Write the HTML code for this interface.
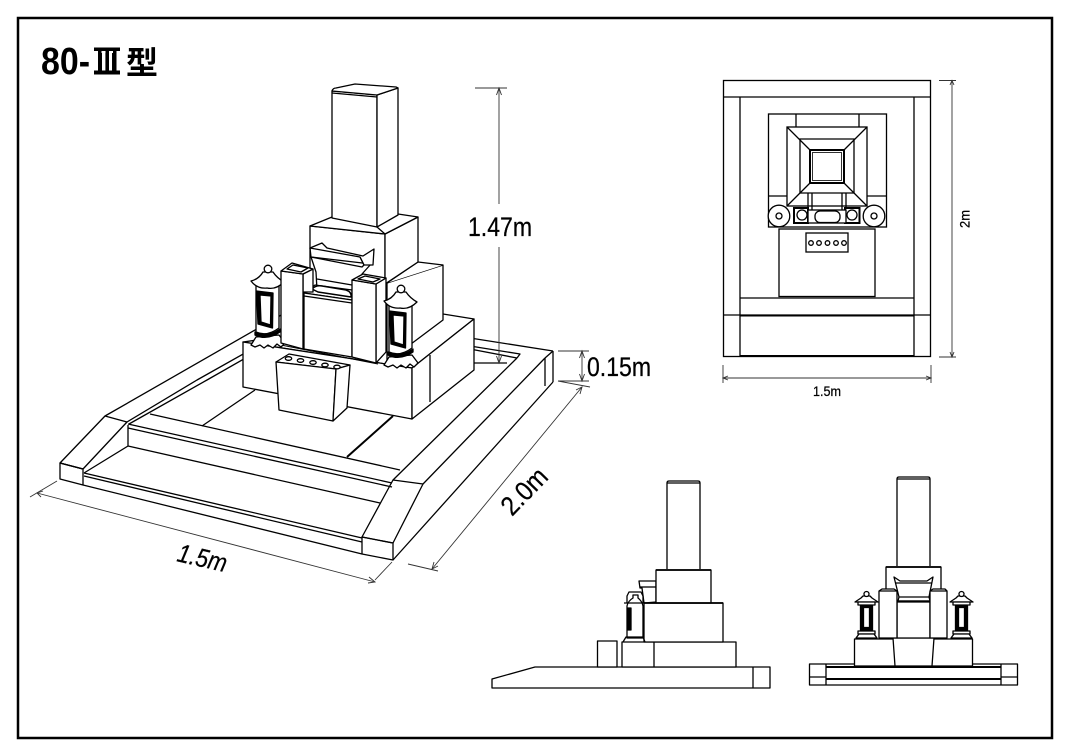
<!DOCTYPE html>
<html lang="ja">
<head>
<meta charset="utf-8">
<title>80-Ⅲ型</title>
<style>
html,body{margin:0;padding:0;background:#fff;width:1070px;height:756px;overflow:hidden}
svg{display:block}
text{font-family:"Liberation Sans","Noto Sans CJK JP",sans-serif;fill:#000;stroke:none}
text.d{stroke:#000;stroke-width:.25}
</style>
</head>
<body>
<svg width="1070" height="756" viewBox="0 0 1070 756" xmlns="http://www.w3.org/2000/svg">
<defs>
<g id="lan">
  <path d="M384,365 L389,357 L412,355 L418,363 L414,367 L410,364 L406,368 L401,365 L397,368 L393,365 L388,367 Z"/>
  <path d="M388,352 Q400,358 413,349 L413,352 Q400,361 388,355 Z" fill="#000"/>
  <path d="M389,305 L389,352 Q400,357 412,348 L412,305 Z"/>
  <path d="M389.500,311 L406,313 L405.500,348 L391,344 Z" fill="#000"/>
  <path d="M393,315 L404,316 L403.500,345 L394,342 Z"/>
  <path d="M384,301 Q392,299 396,292 L406,292 Q410,298 417,302 Q409,310 400,308 Q390,309 384,301 Z"/>
  <circle cx="401" cy="289" r="3.800"/>
</g>
<g id="fl">
  <rect x="860.500" y="605" width="12" height="26" fill="#000"/>
  <rect x="863.500" y="607.500" width="6" height="20"/>
  <path d="M858,631 H875 V634 H858 Z"/>
  <path d="M856,638 L859,634 H874 L877,638 Z"/>
  <path d="M855,602 L861,598 L863,596 H870 L872,598 L878,602 Z" />
  <circle cx="866.500" cy="594" r="2.500"/>
  <path d="M858,602 H875 V605 H858 Z"/>
</g>
</defs>

<rect width="1070" height="756" fill="#fff"/>
<rect x="18" y="18" width="1034" height="720" fill="#fff" stroke="#000" stroke-width="2.500"/>

<text x="41" y="74" font-size="38" font-weight="700" textLength="49" lengthAdjust="spacingAndGlyphs">80-</text>
<text x="94" y="73" font-size="26" font-weight="700" textLength="26" lengthAdjust="spacingAndGlyphs" style="font-family:'IPAGothic','Noto Sans CJK JP',sans-serif">Ⅲ</text>
<rect x="94" y="47.500" width="26" height="3.500" fill="#000"/>
<rect x="94" y="70.500" width="26" height="4" fill="#000"/>
<rect x="98" y="49" width="3.500" height="23" fill="#000"/>
<rect x="105.500" y="49" width="3.500" height="23" fill="#000"/>
<rect x="113" y="49" width="3.500" height="23" fill="#000"/>
<text x="126" y="74" font-size="32" font-weight="700" style="font-family:'Noto Sans CJK JP',sans-serif">型</text>

<!-- Isometric base -->
<g fill="none" stroke="#000" stroke-width="1.300" stroke-linejoin="round">
  <path d="M105,416 L290,310"/>
  <path d="M60,463 L105,416 L127,422 L83,469 Z" fill="#fff"/>
  <path d="M127,422 L197,380 L270,339"/>
  <path d="M129,424 L207,380 L270,344"/>
  <path d="M60,463 V479 L83,485 V469 Z"/>
  <path d="M60,463 L83,469"/>
  <path d="M128,425 V446 L84,473"/>
  <path d="M150,414 L400,470"/>
  <path d="M128,424 L392,483"/>
  <path d="M128,428 L392,487"/>
  <path d="M128,446 L380,503"/>
  <path d="M84,473 L362,538"/>
  <path d="M84,476 L362,542"/>
  <path d="M83,485 L362,554"/>
  <path d="M202,426 L255,390"/>
  <path d="M347,457 L393,416" stroke-width="2"/>
  <path d="M362,537 L393,480 L423,484 L393,543 Z"/>
  <path d="M362,537 V554 L393,560 V543 Z"/>
  <path d="M393,480 L517,358"/>
  <path d="M423,484 L545,358"/>
  <path d="M393,560 L553,382"/>
  <path d="M545,358 V386"/>
  <path d="M553,351 V382"/>
  <path d="M545,358 L553,351"/>
  <path d="M470,338 L553,351"/>
  <path d="M470,346 L520,354 L517,358"/>
  <path d="M470,349 L517,358"/>
  <path d="M470,363 H507"/>
</g>

<!-- Monument -->
<g fill="#fff" stroke="#000" stroke-width="1.300" stroke-linejoin="round">
  <path d="M243,342 L443,314 L474,319 L412,368 Z"/>
  <path d="M387,283 L443,265 V320 L387,362 Z"/>
  <path d="M387,283 L418,262 L443,265"/>
  <path d="M310,226 L385,234 V295 L310,295 Z"/>
  <path d="M385,234 L418,217 V262 L385,284 Z"/>
  <path d="M310,226 L332,217 L398,214 L418,217 L385,234 Z"/>
  <path d="M332,91 L377,95 V227 L332,218 Z"/>
  <path d="M377,95 L398,88 V215 L377,227 Z"/>
  <path d="M332,91 Q333,88 336,88 L355,84 L396,87 L398,88 L377,95 Z"/>
  <path d="M332,93 L377,97" fill="none"/>
  <path d="M377,227 L385,234" fill="none"/>

  <path d="M243,342 L412,368 V419 L243,387 Z"/>
  <path d="M412,368 L474,319 V370 L412,419 Z"/>
  <path d="M430,355 V402" fill="none"/>
  <path d="M281,345 L378,364" fill="none" stroke-width="1.100"/>

  <!-- Left lantern -->
  <use href="#lan" transform="translate(-133,-20)"/>

  <!-- Incense stand -->
  <path d="M311,257 L316,272 L317,290 H362 L362,274 L371,264 Z"/>
  <path d="M310,248 L322,243 L327,248 L363,256 L374,249 L373,265 L364,265 L360,257 Z"/>
  <path d="M310,248 L311,257 L362,267 L364,265 M360,257 L364,265" fill="none"/>
  <path d="M317,279 L352,285" fill="none"/>

  <!-- Center block -->
  <path d="M304,293 L315,285 L352,290 V300 Z"/>
  <path d="M312,289 Q316,285 322,286 L346,290 Q352,292 351,297 L318,292 Z" stroke-width="1.500"/>
  <path d="M304,293 L352,300 V357 L304,349 Z"/>
  <path d="M304,296 L352,303" fill="none"/>

  <!-- Left pillar -->
  <path d="M303,274 L313,269 V292 L303,292 Z"/>
  <path d="M281,271 L303,274 V349 L281,343 Z"/>
  <path d="M281,271 L292,263 L313,269 L303,274 Z"/>
  <path d="M287,269 L293,265 L308,268 L301,272 Z"/>

  <!-- Right pillar -->
  <path d="M376,284 L386,278 V352 L376,363 Z"/>
  <path d="M352,280 L376,284 V363 L352,357 Z"/>
  <path d="M352,280 L363,274 L386,278 L376,284 Z"/>
  <path d="M358,279 L365,276 L380,279 L373,282 Z"/>

  <use href="#lan"/>

  <!-- Flower stand -->
  <path d="M276,362 L289,354 L350,365 L336,369 Z"/>
  <path d="M276,362 L336,369 L333,421 L279,410 Z"/>
  <path d="M336,369 L350,365 L347,408 L333,421 Z"/>
  <ellipse cx="288.500" cy="358.500" rx="3.200" ry="1.800"/>
  <ellipse cx="300.500" cy="360.500" rx="3.200" ry="1.800"/>
  <ellipse cx="313" cy="362.500" rx="3.200" ry="1.800"/>
  <ellipse cx="325" cy="365" rx="3.200" ry="1.800"/>
  <ellipse cx="337" cy="367" rx="3.200" ry="1.800"/>
</g>

<!-- Iso dimensions -->
<g fill="none" stroke="#333" stroke-width="0.900">
  <path d="M475,88 H507 M499,88 V204 M499,247 V363"/>
  <path d="M496.500,95 L499,88 L501.500,95 M496.500,356 L499,363 L501.500,356"/>
  <path d="M558,351 H589 M582,351 V381 M558,381 H589 M558,381 L590,387"/>
  <path d="M579.500,358 L582,351 L584.500,358 M579.500,374 L582,381 L584.500,374"/>
  <path d="M582,387 L432,569 M408,564 L438,571"/>
  <path d="M576,390 L582,387 L580,394 M434,562 L432,569 L438,566"/>
  <path d="M57,481 L30,497 M37,493 L375,582 M392,562 L375,580"/>
  <path d="M43,491 L37,493 L41,497 M369,577 L375,582 L368,583"/>
</g>
<text class="d" x="468" y="236" font-size="26.500" textLength="64" lengthAdjust="spacingAndGlyphs">1.47m</text>
<text class="d" x="587" y="376" font-size="26.500" textLength="64" lengthAdjust="spacingAndGlyphs">0.15m</text>
<text class="d" transform="translate(512,517) rotate(-46)" font-size="27" textLength="54" lengthAdjust="spacingAndGlyphs">2.0m</text>
<text class="d" transform="translate(176,561) rotate(13)" font-size="26" font-style="italic" textLength="50" lengthAdjust="spacingAndGlyphs">1.5m</text>

<!-- Top view -->
<g fill="#fff" stroke="#000" stroke-width="1.300">
  <rect x="723.500" y="80.500" width="207" height="276"/>
  <path d="M723.500,97 H930.500 M740,97 V356.500 M914,97 V356.500 M740,298 H914 M723.500,315 H930.500" fill="none"/>
  <path d="M740,315.500 H914 M740,356 H914" fill="none" stroke-width="2"/>
  <rect x="768.500" y="114" width="118" height="113"/>
  <path d="M796,114 V127 M859,114 V127 M768.500,196 H787 M867,196 H886.500" fill="none"/>
  <rect x="787" y="127" width="80" height="79"/>
  <path d="M800,139 H854 V193 H800 Z" fill="none"/>
  <path d="M787,127 L810,150 M867,127 L844,150 M787,206 L810,183 M867,206 L844,183" fill="none"/>
  <rect x="810" y="150" width="34" height="33" stroke-width="2"/>
  <rect x="812.500" y="152.500" width="29" height="28" stroke-width="0.800"/>
  <path d="M808,193 V208 M812,193 V210 M842,193 V210 M846,193 V208" fill="none"/>
  <circle cx="779" cy="216" r="10.800"/><circle cx="779" cy="216" r="3"/>
  <circle cx="874" cy="216" r="10.800"/><circle cx="874" cy="216" r="3"/>
  <rect x="794" y="208" width="14" height="15" stroke-width="2"/><circle cx="802" cy="215" r="5"/>
  <rect x="845" y="208" width="14.500" height="15" stroke-width="2"/><circle cx="852" cy="215" r="5"/>
  <rect x="808" y="210" width="38" height="13"/>
  <rect x="815" y="211" width="25" height="11.500" rx="5"/>
  <rect x="779" y="229" width="96" height="67.500"/>
  <rect x="806" y="233" width="42" height="19"/>
  <circle cx="811" cy="243" r="2.300"/><circle cx="819" cy="243" r="2.300"/><circle cx="827.500" cy="243" r="2.300"/><circle cx="836" cy="243" r="2.300"/><circle cx="844" cy="243" r="2.300"/>
</g>
<g fill="none" stroke="#333" stroke-width="0.900">
  <path d="M939,80.500 H956 M952,80.500 V357 M939,357 H956"/>
  <path d="M950,85 L952,80.500 L954,85 M950,352 L952,357 L954,352"/>
  <path d="M723,365 V383 M931,365 V383 M723,378 H931"/>
  <path d="M728,376 L723,378 L728,380 M926,376 L931,378 L926,380"/>
</g>
<text class="d" transform="translate(969.500,228) rotate(-90)" font-size="14" textLength="18" lengthAdjust="spacingAndGlyphs">2m</text>
<text class="d" x="813" y="396" font-size="14" textLength="28" lengthAdjust="spacingAndGlyphs">1.5m</text>

<!-- Side view -->
<g fill="#fff" stroke="#000" stroke-width="1.300" stroke-linejoin="round">
  <path d="M492,679 L535,667 H770 V688 H492 Z"/>
  <path d="M753,667 V688" fill="none"/>
  <rect x="597.500" y="641" width="19.500" height="26"/>
  <rect x="622" y="642" width="114" height="25"/>
  <path d="M654,642 V667" fill="none"/>
  <rect x="644" y="603" width="79" height="39"/>
  <path d="M639,581 H656 V602 L644,603 L642,588 H640 Z"/>
  <path d="M640,587 H656" fill="none"/>
  <rect x="656" y="570" width="55" height="33"/>
  <path d="M667,569 V483 Q667,481 669,481 H698 Q700,481 700,483 V569" />
  <path d="M667,483 H700" fill="none"/>
  <path d="M656,570 H711 M644,603 H723" fill="none" stroke-width="1.800"/>
  <path d="M627,603 V596 L629,592 H641 L643,596 V603" fill="none"/>
  <path d="M627,606 Q628,601 633,598 V595 H638 V598 Q642,601 643,606 V638 H627 Z"/>
  <rect x="627.500" y="608" width="3.500" height="22" fill="#000"/>
  <path d="M624,603 H645" fill="none"/>
  <path d="M623,642 L626,637 H643 L645,642" fill="none"/>
</g>

<!-- Front view -->
<g fill="#fff" stroke="#000" stroke-width="1.300" stroke-linejoin="round">
  <rect x="809.500" y="664" width="208" height="21"/>
  <path d="M826,664 V685 M1001,664 V685 M809.500,677 H826 M1001,677 H1017.500" fill="none"/>
  <path d="M826,667 H1001 M826,679 H1001" fill="none" stroke-width="2"/>
  <rect x="854.500" y="639" width="118" height="27"/>
  <path d="M893,638 H934 L932,666 H895 Z"/>
  <rect x="886" y="567" width="55" height="24"/>
  <path d="M897,566 V479 Q897,477 899,477 H928 Q930,477 930,479 V566"/>
  <path d="M897,479 H930" fill="none"/>
  <path d="M886,567 H941" fill="none" stroke-width="1.800"/>
  <rect x="897" y="601" width="33" height="37"/>
  <path d="M897,601.500 H930" fill="none" stroke-width="2.200"/>
  <path d="M894,577 L900,581 H927 L933,577 L929,597 H899 Z"/>
  <path d="M899,597 L898,601 M929,597 L930,601 M895,583 L932,583" fill="none"/>
  <path d="M879,638 V591 L882,589 H894 L897,591 V638 Z"/>
  <path d="M930,638 V591 L933,589 H945 L947,591 V638 Z"/>
  <path d="M879,591 H897 M930,591 H947" fill="none"/>
  <use href="#fl"/>
  <use href="#fl" transform="translate(95,0)"/>
</g>
</svg>
</body>
</html>
